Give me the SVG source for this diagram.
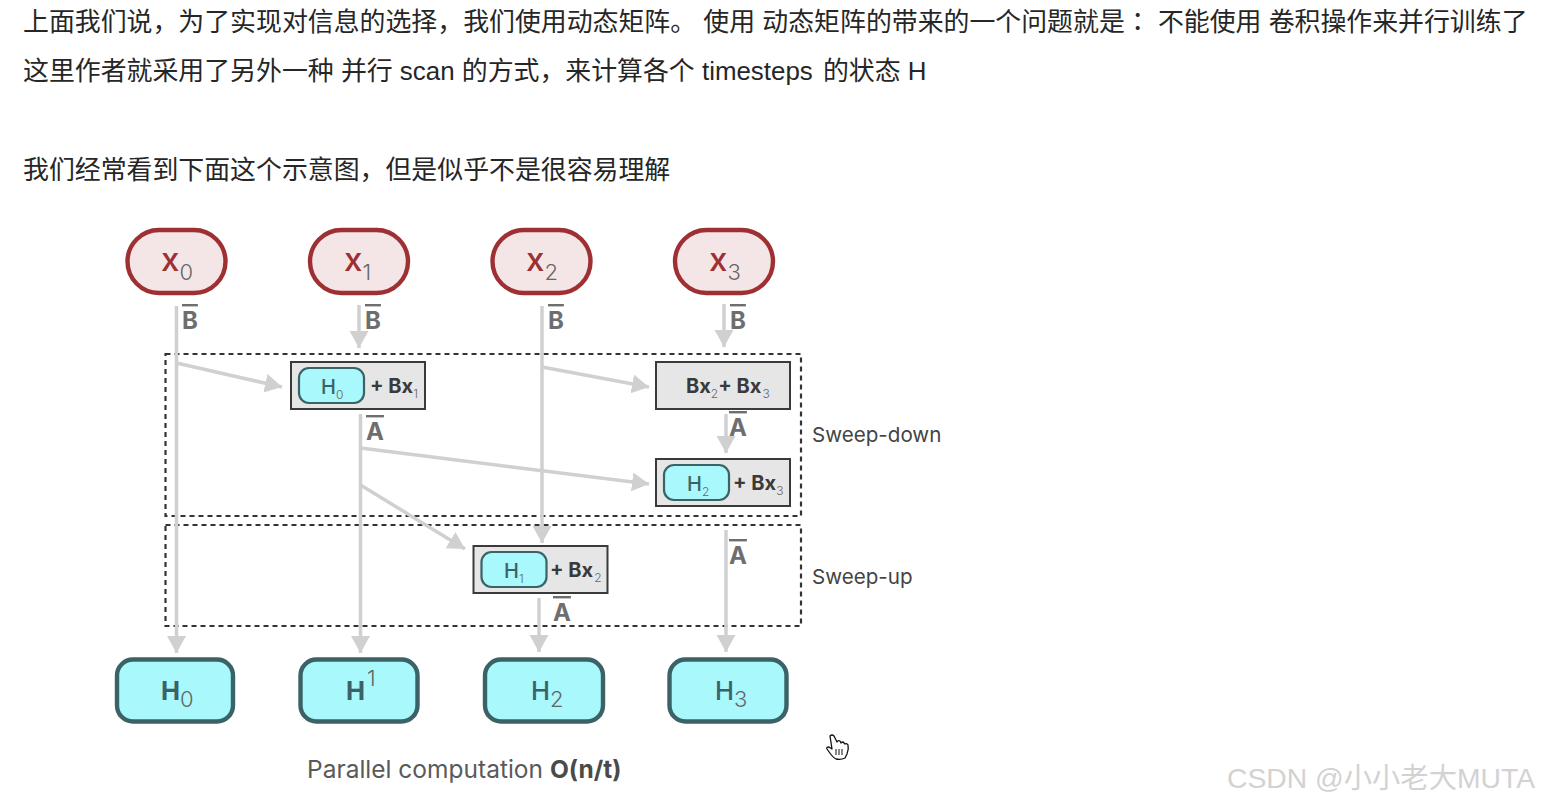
<svg xmlns="http://www.w3.org/2000/svg" width="1548" height="805" viewBox="0 0 1548 805">
<style>
.t{font-family:"Liberation Sans","Noto Sans CJK SC",sans-serif;font-size:25.9px;fill:#262626}
.x{fill:#f4e6e6;stroke:#9e2f32;stroke-width:4.4}
.xt{font-family:"Inter",sans-serif;font-size:33px;fill:#9e2f32;font-weight:500}
.s{font-family:"Inter",sans-serif;font-weight:300;fill:#666}
.h{fill:#a8f8fc;stroke:#3b6266;stroke-width:4.4}
.ht{font-family:"Inter",sans-serif;font-size:25.5px;fill:#3b6266;font-weight:500}
.b{fill:#e6e6e6;stroke:#3a3a3a;stroke-width:2}
.i{fill:#a8f8fc;stroke:#3b6266;stroke-width:2.2}
.it{font-family:"Inter",sans-serif;font-size:20px;fill:#3b6266;font-weight:500}
.bt{font-family:"Inter",sans-serif;font-size:20px;fill:#3a3a3a;font-weight:700}
.d{fill:none;stroke:#333;stroke-width:2.2;stroke-dasharray:5 4}
.c line{stroke:#d0d0d0;stroke-width:3.5}
.m{font-family:"Inter",sans-serif;font-size:24px;fill:#6e6e6e;font-weight:700;text-decoration:overline}
.l{font-family:"Inter",sans-serif;font-size:20.6px;fill:#444}
</style>
<defs>
<marker id="a" markerUnits="userSpaceOnUse" markerWidth="20" markerHeight="20" refX="17" refY="9.500" orient="auto"><path d="M0 0L17 9.500L0 19Z" fill="#d0d0d0"/></marker>
</defs>
<rect width="1548" height="805" fill="#fff"/>
<text class="t" x="23" y="31">上面我们说，为了实现对信息的选择，我们使用动态矩阵。 使用 动态矩阵的带来的一个问题就是<tspan font-family="Noto Sans CJK TC,sans-serif">：</tspan> 不能使用 卷积操作来并行训练了</text>
<text class="t" x="23" y="80">这里作者就采用了另外一种 并行 scan 的方式，来计算各个 timesteps <tspan dx="3">的状态 H</tspan></text>
<text class="t" x="23" y="179">我们经常看到下面这个示意图，但是似乎不是很容易理解</text>
<rect class="d" x="165.500" y="354" width="635.500" height="162"/>
<rect class="d" x="165.500" y="525" width="635.500" height="101"/>
<g id="connectors" class="c">
<line x1="176.500" y1="306" x2="176.500" y2="653" marker-end="url(#a)"/>
<line x1="359" y1="305" x2="359" y2="348" marker-end="url(#a)"/>
<line x1="542" y1="306" x2="542" y2="543" marker-end="url(#a)"/>
<line x1="724" y1="304" x2="724" y2="347" marker-end="url(#a)"/>
<line x1="176.500" y1="363" x2="282" y2="387" marker-end="url(#a)"/>
<line x1="542" y1="367" x2="649" y2="387" marker-end="url(#a)"/>
<line x1="360.500" y1="414" x2="360.500" y2="653" marker-end="url(#a)"/>
<line x1="360.500" y1="448" x2="649" y2="484" marker-end="url(#a)"/>
<line x1="360.500" y1="485" x2="465" y2="549" marker-end="url(#a)"/>
<line x1="726" y1="414" x2="726" y2="453" marker-end="url(#a)"/>
<line x1="726" y1="530" x2="726" y2="652" marker-end="url(#a)"/>
<line x1="539" y1="598" x2="539" y2="652" marker-end="url(#a)"/>
</g>
<g id="x0"><rect class="x" x="127.500" y="230" width="98" height="63" rx="31.500"/><text class="xt" x="161" y="271">x<tspan class="s" font-size="22" dy="9">0</tspan></text></g>
<g id="x1"><rect class="x" x="310" y="230" width="98" height="63" rx="31.500"/><text class="xt" x="344" y="271">x<tspan class="s" font-size="22" dy="9">1</tspan></text></g>
<g id="x2"><rect class="x" x="492.500" y="230" width="98" height="63" rx="31.500"/><text class="xt" x="526" y="271">x<tspan class="s" font-size="22" dy="9">2</tspan></text></g>
<g id="x3"><rect class="x" x="675" y="230" width="98" height="63" rx="31.500"/><text class="xt" x="709" y="271">x<tspan class="s" font-size="22" dy="9">3</tspan></text></g>
<g id="labels">
<text class="m" x="182" y="329">B</text><text class="m" x="365" y="329">B</text><text class="m" x="548" y="329">B</text><text class="m" x="730" y="329">B</text>
<text class="m" x="366" y="440">A</text><text class="m" x="729" y="436">A</text><text class="m" x="729" y="564">A</text><text class="m" x="553" y="621">A</text>
<text class="l" x="812" y="442">Sweep-down</text>
<text class="l" x="812" y="584">Sweep-up</text>
</g>
<g id="box-h0"><rect class="b" x="291" y="362" width="134" height="47"/><rect class="i" x="299" y="368" width="65" height="35" rx="10"/><text class="it" x="321" y="394">H<tspan class="s" font-size="12" dy="5">0</tspan></text><text class="bt" x="370" y="393">+ Bx<tspan class="s" font-size="12" dy="5">1</tspan></text></g>
<g id="box-bx"><rect class="b" x="656" y="362" width="134" height="47"/><text class="bt" x="686" y="393">Bx<tspan class="s" font-size="12" dy="5">2</tspan><tspan dy="-5">+ Bx</tspan><tspan class="s" font-size="12" dy="5" dx="1">3</tspan></text></g>
<g id="box-h2"><rect class="b" x="656" y="459" width="134" height="47"/><rect class="i" x="664" y="465" width="65" height="35" rx="10"/><text class="it" x="687" y="491">H<tspan class="s" font-size="12" dy="5">2</tspan></text><text class="bt" x="733" y="490">+ Bx<tspan class="s" font-size="12" dy="5">3</tspan></text></g>
<g id="box-h1"><rect class="b" x="473.500" y="546" width="134" height="47"/><rect class="i" x="481.500" y="552" width="65" height="35" rx="10"/><text class="it" x="504" y="578">H<tspan class="s" font-size="12" dy="5">1</tspan></text><text class="bt" x="550" y="577">+ Bx<tspan class="s" font-size="12" dy="5" dx="1">2</tspan></text></g>
<g id="h0"><rect class="h" x="117" y="659.500" width="116" height="62" rx="16"/><text class="ht" x="161" y="700" style="font-weight:700">H<tspan class="s" font-size="22" dy="7">0</tspan></text></g>
<g id="h1"><rect class="h" x="300.500" y="659.500" width="117" height="62" rx="16"/><text class="ht" x="346" y="700" style="font-weight:700">H<tspan class="s" font-size="22" dy="-14" dx="2">1</tspan></text></g>
<g id="h2"><rect class="h" x="485" y="659.500" width="118" height="62" rx="16"/><text class="ht" x="531" y="700">H<tspan class="s" font-size="22" dy="7">2</tspan></text></g>
<g id="h3"><rect class="h" x="669.500" y="659.500" width="117" height="62" rx="16"/><text class="ht" x="715" y="700">H<tspan class="s" font-size="22" dy="7">3</tspan></text></g>
<text id="caption" font-family="Inter,sans-serif" font-size="24.500" fill="#5a5a5a" x="307" y="778">Parallel computation <tspan font-weight="700" fill="#4a4a4a">O(n/t)</tspan></text>
<g id="cursor" fill="#fff" stroke="#111" stroke-width="1.300" stroke-linejoin="round"><path d="M830 736q2-2 4 0l3 6q1-2 3-1l1 2q2-2 3 0l1 1q2-1 3 1q1 4-1 9l-2 4q-4 2-9 1q-3-1-9-10q-1-2 2-2l3 2z"/><path d="M836 749v6M839 749v6M842 749v6" stroke-width="1"/></g>
<text font-family="Liberation Sans,Noto Sans CJK SC,sans-serif" font-size="28.300" fill="#d2d2d2" x="1227" y="788">CSDN @小小老大MUTA</text>
</svg>
